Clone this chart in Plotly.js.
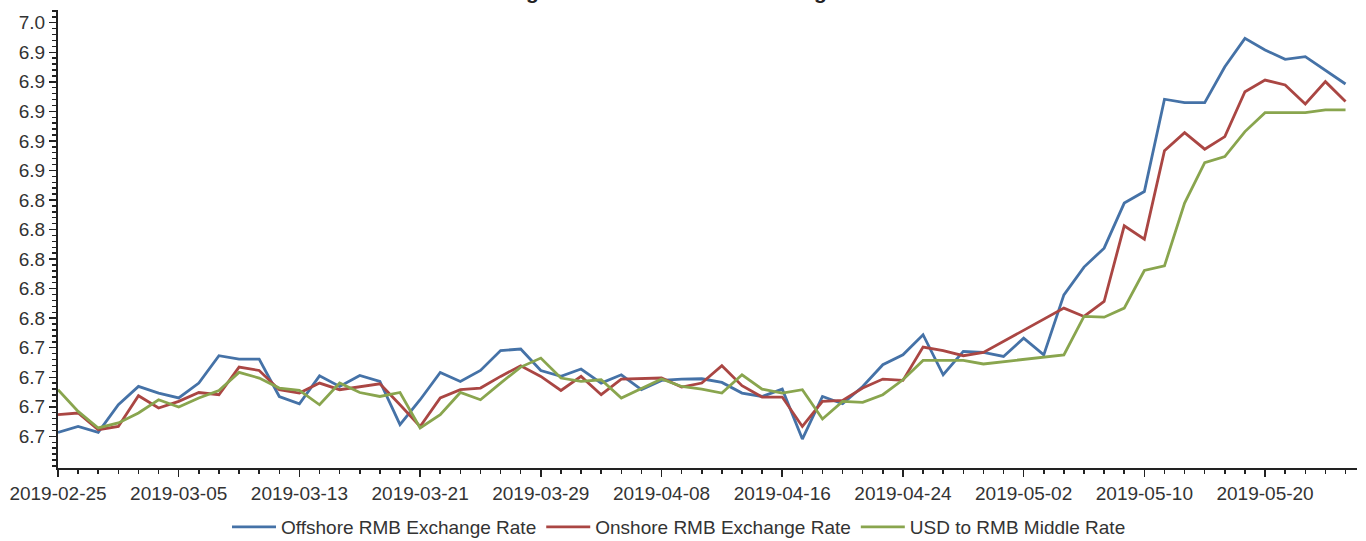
<!DOCTYPE html>
<html>
<head>
<meta charset="utf-8">
<script src="https://cdn.plot.ly/plotly-3.0.1.min.js"></script>
<style>html,body{margin:0;padding:0;background:#fff;}#chart{width:1366px;height:541px;}</style>
</head>
<body>
<div id="chart"></div>
<script>
const dates = [
'2019-02-25','2019-02-26','2019-02-27','2019-02-28','2019-03-01',
'2019-03-04','2019-03-05','2019-03-06','2019-03-07','2019-03-08',
'2019-03-11','2019-03-12','2019-03-13','2019-03-14','2019-03-15',
'2019-03-18','2019-03-19','2019-03-20','2019-03-21','2019-03-22',
'2019-03-25','2019-03-26','2019-03-27','2019-03-28','2019-03-29',
'2019-04-01','2019-04-02','2019-04-03','2019-04-04','2019-04-05',
'2019-04-08','2019-04-09','2019-04-10','2019-04-11','2019-04-12',
'2019-04-15','2019-04-16','2019-04-17','2019-04-18','2019-04-19',
'2019-04-22','2019-04-23','2019-04-24','2019-04-25','2019-04-26',
'2019-04-29','2019-04-30','2019-05-01','2019-05-02','2019-05-03',
'2019-05-06','2019-05-07','2019-05-08','2019-05-09','2019-05-10',
'2019-05-13','2019-05-14','2019-05-15','2019-05-16','2019-05-17',
'2019-05-20','2019-05-21','2019-05-22','2019-05-23','2019-05-24'
];

const offshore = [
6.6827,6.6867,6.6827,6.7014,6.7138,6.7093,6.7060,6.7161,6.7346,6.7323,
6.7323,6.7070,6.7021,6.7210,6.7138,6.7212,6.7172,6.6879,6.7048,6.7233,
6.7172,6.7246,6.7381,6.7391,6.7246,6.7206,6.7256,6.7161,6.7217,6.7116,
6.7179,6.7188,6.7190,6.7165,6.7093,6.7070,6.7120,6.6782,6.7070,6.7021,
6.7138,6.7285,6.7352,6.7488,6.7217,6.7375,6.7368,6.7341,6.7465,6.7352,
6.7758,6.7946,6.8074,6.8379,6.8457,6.9082,6.9059,6.9059,6.9302,6.9494,
6.9415,6.9352,6.9370,6.9280,6.9185
];

const onshore = [
6.6947,6.6958,6.6845,6.6867,6.7075,6.6992,6.7037,6.7097,6.7082,6.7269,
6.7246,6.7116,6.7093,6.7161,6.7116,6.7134,6.7156,6.7014,6.6867,6.7060,
6.7116,6.7127,6.7206,6.7278,6.7206,6.7111,6.7206,6.7082,6.7188,null,
6.7195,6.7134,6.7161,6.7278,6.7143,6.7066,6.7066,6.6867,6.7037,6.7043,
6.7127,6.7188,6.7179,6.7405,6.7381,6.7346,6.7368,null,null,null,
6.7668,6.7612,6.7713,6.8225,6.8135,6.8734,6.8856,6.8744,6.8829,6.9133,
6.9212,6.9179,6.9050,6.9201,6.9066
];

const middle = [
6.7116,6.6969,6.6857,6.6891,6.6958,6.7048,6.6999,6.7060,6.7111,6.7233,
6.7195,6.7127,6.7111,6.7014,6.7161,6.7097,6.7070,6.7097,6.6857,6.6947,
6.7097,6.7048,6.7161,6.7269,6.7330,6.7195,6.7172,6.7183,6.7060,null,
6.7188,6.7138,6.7120,6.7093,6.7217,6.7120,6.7093,6.7116,6.6918,6.7037,
6.7030,6.7082,6.7183,6.7314,6.7314,6.7314,6.7290,null,null,null,
6.7352,6.7612,6.7607,6.7668,6.7923,6.7954,6.8379,6.8653,6.8694,6.8863,
6.8991,6.8991,6.8991,6.9010,6.9010
];

const seriesNames = ['Offshore RMB Exchange Rate','Onshore RMB Exchange Rate','USD to RMB Middle Rate'];
const xTickLabels = ['2019-02-25','2019-03-05','2019-03-13','2019-03-21','2019-03-29','2019-04-08','2019-04-16','2019-04-24','2019-05-02','2019-05-10','2019-05-20'];
const yTickVals = [6.68,6.70,6.72,6.74,6.76,6.78,6.80,6.82,6.84,6.86,6.88,6.90,6.92,6.94,6.96];
const yTickText = ['6.7','6.7','6.7','6.7','6.8','6.8','6.8','6.8','6.8','6.9','6.9','6.9','6.9','6.9','7.0'];
const chartTitle = 'Exchange Rate Movements Following Trade Talks';

const xs = dates.map((d, i) => i);
const colors = ['#4572A7', '#AA4643', '#89A54E'];
const font = '"Liberation Sans", Arial, sans-serif';

const traces = [offshore, onshore, middle].map((vals, k) => ({
  type: 'scatter', mode: 'lines', x: xs, y: vals, name: seriesNames[k],
  connectgaps: true, line: {color: colors[k], width: 2.8}, hoverinfo: 'skip'
}));

const layout = {
  width: 1366, height: 541,
  paper_bgcolor: '#fff', plot_bgcolor: '#fff',
  margin: {l: 58, r: 9, t: 10, b: 73},
  font: {family: font, size: 19, color: '#333'},
  title: {text: chartTitle, font: {family: font, size: 21, color: '#222', weight: 'bold'},
          xref: 'container', x: 699/1366, xanchor: 'center',
          yref: 'container', y: 1, yanchor: 'bottom', pad: {b: 1}},
  showlegend: true,
  legend: {orientation: 'h', xref: 'container', x: 679/1366, xanchor: 'center',
           yref: 'container', y: 14/541, yanchor: 'middle', itemwidth: 44,
           font: {family: font, size: 19, color: '#333'}, bgcolor: 'rgba(0,0,0,0)'},
  xaxis: {
    range: [0, 64.57], showgrid: false, zeroline: false,
    showline: true, linecolor: '#222', linewidth: 2,
    tickmode: 'array', tickvals: xTickLabels.map(l => dates.indexOf(l)), ticktext: xTickLabels,
    ticks: 'outside', ticklen: 7, tickwidth: 1.5, tickcolor: '#222',
    tickfont: {family: font, size: 19, color: '#333'},
    minor: {tickmode: 'linear', tick0: 0, dtick: 1, ticks: 'outside', ticklen: 4, tickwidth: 1.5, tickcolor: '#222', showgrid: false}
  },
  yaxis: {
    range: [6.6586, 6.9686], showgrid: false, zeroline: false,
    showline: true, linecolor: '#222', linewidth: 2,
    tickmode: 'array', tickvals: yTickVals, ticktext: yTickText,
    ticks: 'outside', ticklen: 7, tickwidth: 1.5, tickcolor: '#222',
    tickfont: {family: font, size: 19, color: '#333'},
    minor: {tickmode: 'linear', tick0: 6.68, dtick: 0.004, ticks: 'outside', ticklen: 4, tickwidth: 1.5, tickcolor: '#222', showgrid: false}
  }
};

Plotly.newPlot('chart', traces, layout, {displayModeBar: false, staticPlot: true});
</script>
</body>
</html>
